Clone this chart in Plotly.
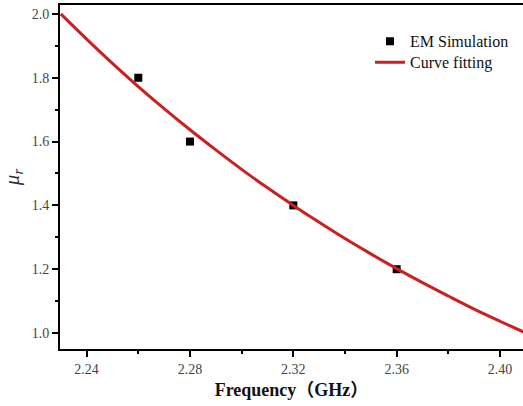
import plotly.graph_objects as go

# EM simulation points
sim_freq = [2.26, 2.28, 2.32, 2.36]
sim_mu = [1.80, 1.60, 1.40, 1.20]

# fitted curve
fit_freq = [2.23, 2.24, 2.25, 2.26, 2.27, 2.28, 2.29, 2.30, 2.31, 2.32, 2.33,
            2.34, 2.35, 2.36, 2.37, 2.38, 2.39, 2.40, 2.41]
fit_mu = [2.000, 1.921, 1.845, 1.772, 1.703, 1.637, 1.574, 1.513, 1.455, 1.400,
          1.347, 1.296, 1.248, 1.202, 1.158, 1.116, 1.075, 1.037, 1.000]

x_ticks = [2.24, 2.28, 2.32, 2.36, 2.40]
x_labels = ["2.24", "2.28", "2.32", "2.36", "2.40"]
y_ticks = [1.0, 1.2, 1.4, 1.6, 1.8, 2.0]
y_labels = ["1.0", "1.2", "1.4", "1.6", "1.8", "2.0"]

serif = "Liberation Serif, Times New Roman, serif"

fig = go.Figure()
fig.add_trace(go.Scatter(
    x=sim_freq, y=sim_mu, mode="markers", name="EM Simulation",
    marker=dict(symbol="square", size=8, color="black"), legend="legend",
))
fig.add_trace(go.Scatter(
    x=fit_freq, y=fit_mu, mode="lines", name="Curve fitting",
    line=dict(color="#cc1f1f", width=3, shape="spline"), legend="legend2",
))

axis_common = dict(
    showgrid=False, zeroline=False, showline=True, linecolor="black", linewidth=2,
    ticks="outside", ticklen=6, tickwidth=1.5, tickcolor="black",
    tickfont=dict(family=serif, size=14, color="#444"),
)

fig.update_xaxes(
    range=[2.2297, 2.4089], tickvals=x_ticks, ticktext=x_labels, mirror=True,
    minor=dict(dtick=0.02, tick0=2.24, ticks="outside", ticklen=3, tickwidth=1.5, tickcolor="black"),
    title=dict(text="<b>Frequency（GHz）</b>",
               font=dict(family="Liberation Serif, Noto Sans CJK SC, serif", size=18, color="#111"),
               standoff=8),
    **axis_common,
)
fig.update_yaxes(
    range=[0.95, 2.028], tickvals=y_ticks, ticktext=y_labels,
    minor=dict(dtick=0.1, tick0=1.0, ticks="outside", ticklen=3, tickwidth=1.5, tickcolor="black"),
    title=dict(text="<i>μ<sub>r</sub></i>", font=dict(family=serif, size=21, color="#333"),
               standoff=10),
    **axis_common,
)

legend_common = dict(xanchor="left", yanchor="top",
                     font=dict(family=serif, size=16, color="#111"),
                     bgcolor="rgba(0,0,0,0)", itemwidth=30)

fig.update_layout(
    width=523, height=406,
    margin=dict(l=60, r=0, t=5, b=57),
    paper_bgcolor="white", plot_bgcolor="white",
    showlegend=True,
    legend=dict(x=0.6695, y=0.944, **legend_common),
    legend2=dict(x=0.6695, y=0.883, **legend_common),
)

fig.write_html("out.html")
